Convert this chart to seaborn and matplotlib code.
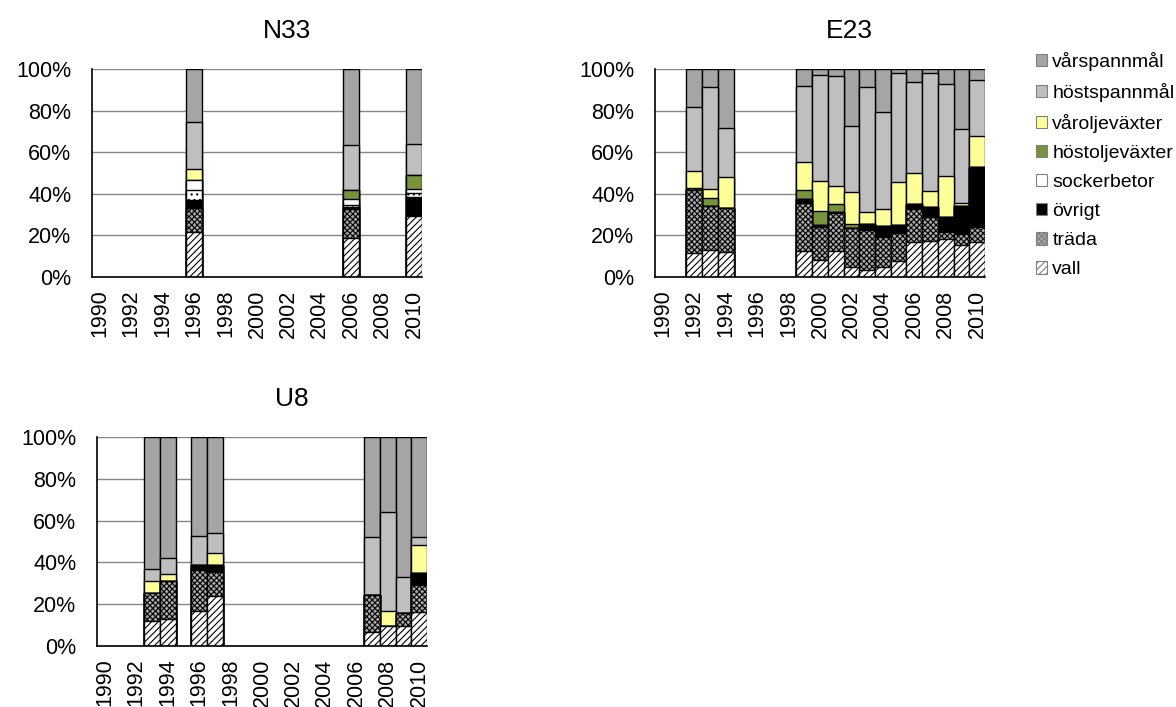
import numpy as np
import pandas as pd
import matplotlib
matplotlib.use("Agg")
import matplotlib.pyplot as plt
from matplotlib.patches import Patch
import seaborn as sns

# ==========================================
# DATA (percent of area)
# ==========================================

all_years = [str(y) for y in range(1990, 2011)]
year_labels = [str(y) if y % 2 == 0 else "" for y in range(1990, 2011)]

categories = [
    "vall", "träda", "övrigt", "potatis", "sockerbetor",
    "höstoljeväxter", "våroljeväxter", "höstspannmål", "vårspannmål"
]

n33_years = [1996, 2006, 2010]
n33_vall = [21.8, 18.6, 29.3]
n33_trada = [11.2, 13.9, 0.0]
n33_ovrigt = [4.0, 1.3, 9.3]
n33_potatis = [4.8, 0.8, 1.9]
n33_socker = [4.8, 2.7, 1.7]
n33_hostolje = [0.0, 4.5, 6.8]
n33_varolje = [5.2, 0.0, 0.0]
n33_hostspm = [22.6, 21.5, 14.8]
n33_varspm = [25.6, 36.7, 36.2]

e23_years = [1992, 1993, 1994, 1999, 2000, 2001, 2002, 2003,
             2004, 2005, 2006, 2007, 2008, 2009, 2010]
e23_vall = [11.4, 13.0, 12.2, 12.6, 8.2, 12.6, 4.7, 3.4,
            4.7, 7.7, 16.7, 17.5, 18.1, 15.4, 16.7]
e23_trada = [30.4, 21.3, 20.8, 23.1, 16.0, 18.0, 19.0, 19.2,
             14.7, 13.3, 16.0, 11.2, 3.4, 5.3, 7.2]
e23_ovrigt = [0.0, 0.0, 0.0, 1.6, 0.9, 0.8, 0.0, 2.7,
              5.3, 4.0, 2.4, 5.1, 7.2, 13.4, 29.1]
e23_potatis = [0.0] * 15
e23_socker = [0.0] * 15
e23_hostolje = [1.0, 3.8, 0.0, 4.5, 6.8, 3.7, 1.6, 0.0,
                0.0, 0.0, 0.0, 0.0, 0.0, 0.0, 0.0]
e23_varolje = [8.3, 4.2, 15.2, 13.6, 14.4, 8.7, 15.7, 6.1,
               8.0, 20.7, 15.1, 7.7, 20.0, 1.3, 14.9]
e23_hostspm = [30.8, 48.9, 23.3, 36.6, 50.8, 52.9, 31.7, 60.1,
               46.5, 52.5, 43.4, 56.7, 44.1, 35.6, 26.8]
e23_varspm = [18.1, 8.8, 28.5, 8.0, 2.9, 3.3, 27.3, 8.5,
              20.8, 1.8, 6.4, 1.8, 7.2, 29.0, 5.3]

u8_years = [1993, 1994, 1996, 1997, 2007, 2008, 2009, 2010]
u8_vall = [12.1, 12.8, 16.9, 23.9, 6.8, 9.7, 9.7, 16.4]
u8_trada = [13.1, 18.5, 19.5, 11.5, 17.6, 0.0, 5.9, 12.8]
u8_ovrigt = [0.0, 0.0, 2.5, 3.5, 0.0, 0.0, 0.0, 5.6]
u8_potatis = [0.0] * 8
u8_socker = [0.0] * 8
u8_hostolje = [0.0] * 8
u8_varolje = [6.1, 3.1, 0.0, 5.5, 0.0, 7.2, 0.0, 13.5]
u8_hostspm = [5.4, 7.6, 13.7, 9.9, 27.9, 47.1, 17.6, 3.9]
u8_varspm = [63.3, 58.0, 47.4, 45.7, 47.7, 36.0, 66.8, 47.8]

# ==========================================
# STYLES
# ==========================================

styles = {
    "vall": dict(color="white", hatch="/////"),
    "träda": dict(color="#a8a8a8", hatch="xxxxxx"),
    "övrigt": dict(color="black", hatch=None),
    "potatis": dict(color="white", hatch="..."),
    "sockerbetor": dict(color="white", hatch=None),
    "höstoljeväxter": dict(color="#77933c", hatch=None),
    "våroljeväxter": dict(color="#ffff99", hatch=None),
    "höstspannmål": dict(color="#bfbfbf", hatch=None),
    "vårspannmål": dict(color="#a5a5a5", hatch=None),
}

sns.set_style("white")
plt.rcParams["font.family"] = ["Liberation Sans", "DejaVu Sans"]
plt.rcParams["text.color"] = "black"
plt.rcParams["xtick.color"] = "black"
plt.rcParams["ytick.color"] = "black"
plt.rcParams["hatch.color"] = "#555555"
plt.rcParams["hatch.linewidth"] = 0.8


def site_frame(years, series):
    df = pd.DataFrame(dict(zip(categories, series)))
    df["year"] = [str(y) for y in years]
    return df


def draw_site(ax, df, title):
    cum = df[categories].cumsum(axis=1)
    # draw cumulative bars from the top category down so lower ones cover
    for cat in reversed(categories):
        st = styles[cat]
        sns.barplot(
            x=df["year"],
            y=cum[cat],
            order=all_years,
            color=st["color"],
            hatch=st["hatch"],
            saturation=1,
            width=1.0,
            edgecolor="black",
            linewidth=1.0,
            errorbar=None,
            ax=ax,
            zorder=3,
        )

    ax.set_xlim(-0.5, 20.5)
    ax.set_ylim(0, 100)
    ax.set_yticks([0, 20, 40, 60, 80, 100])
    ax.set_yticklabels([f"{v}%" for v in [0, 20, 40, 60, 80, 100]],
                       fontsize=15.5)
    ax.set_xticks(range(21))
    ax.set_xticklabels(year_labels, rotation=90, fontsize=15.5)
    ax.set_xticks(np.arange(-0.5, 21, 1), minor=True)
    ax.tick_params(axis="x", which="major", length=0, pad=9,
                   labelcolor="black")
    ax.tick_params(axis="x", which="minor", length=6, color="#8c8c8c",
                   width=1.2)
    ax.tick_params(axis="y", length=0, pad=15, labelcolor="black")
    ax.set_xlabel("")
    ax.set_ylabel("")
    ax.yaxis.grid(True, color="#868686", linewidth=1.0, zorder=0)
    ax.set_axisbelow(True)
    for s in ["top", "right"]:
        ax.spines[s].set_visible(False)
    for s in ["left", "bottom"]:
        ax.spines[s].set_color("black")
        ax.spines[s].set_linewidth(1.2)
        ax.spines[s].set_zorder(5)
    ax.set_title(title, fontsize=19, x=0.59, pad=22, color="black")


n33 = site_frame(n33_years, [n33_vall, n33_trada, n33_ovrigt, n33_potatis,
                             n33_socker, n33_hostolje, n33_varolje,
                             n33_hostspm, n33_varspm])
e23 = site_frame(e23_years, [e23_vall, e23_trada, e23_ovrigt, e23_potatis,
                             e23_socker, e23_hostolje, e23_varolje,
                             e23_hostspm, e23_varspm])
u8 = site_frame(u8_years, [u8_vall, u8_trada, u8_ovrigt, u8_potatis,
                           u8_socker, u8_hostolje, u8_varolje,
                           u8_hostspm, u8_varspm])

# ==========================================
# FIGURE
# ==========================================

W, H = 1176, 707
fig = plt.figure(figsize=(W / 100, H / 100), dpi=100)

ax1 = fig.add_axes([92 / W, 1 - 277 / H, 330 / W, 208 / H])
ax2 = fig.add_axes([655 / W, 1 - 277 / H, 330 / W, 208 / H])
ax3 = fig.add_axes([97 / W, 1 - 646 / H, 330 / W, 209 / H])

draw_site(ax1, n33, "N33")
draw_site(ax2, e23, "E23")
draw_site(ax3, u8, "U8")

legend_cats = ["vårspannmål", "höstspannmål", "våroljeväxter",
               "höstoljeväxter", "sockerbetor", "övrigt", "träda", "vall"]
handles = [
    Patch(facecolor=styles[c]["color"], hatch=styles[c]["hatch"],
          edgecolor="#808080", linewidth=0.8, label=c)
    for c in legend_cats
]
fig.legend(
    handles=handles,
    loc="upper left",
    bbox_to_anchor=(1028 / W, 1 - 44 / H),
    frameon=False,
    fontsize=14,
    handlelength=0.6,
    handleheight=0.6,
    handletextpad=0.25,
    labelspacing=0.62,
    borderaxespad=0,
)

fig.savefig("out.png", dpi=100)
